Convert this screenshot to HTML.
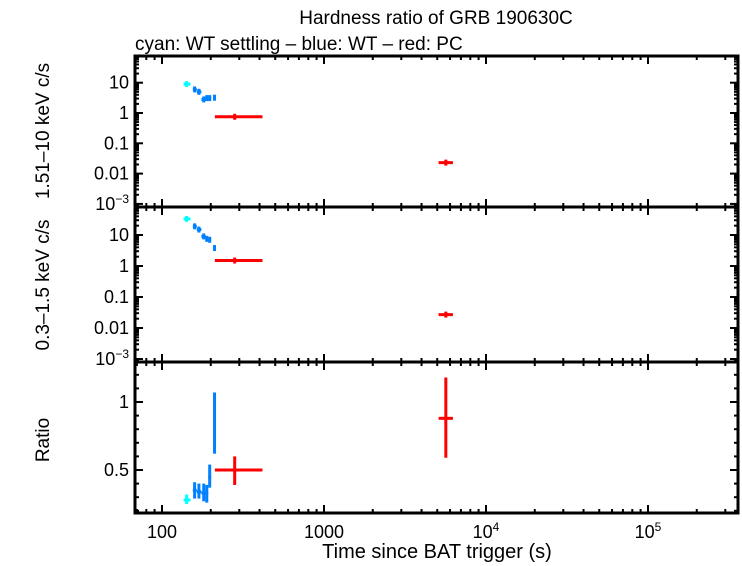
<!DOCTYPE html>
<html><head><meta charset="utf-8"><style>
html,body{margin:0;padding:0;background:#fff;}
svg{display:block;font-family:"Liberation Sans",sans-serif;}
</style></head><body>
<svg id="chart" width="742" height="566" xmlns="http://www.w3.org/2000/svg">
<text x="436" y="24" font-size="19" text-anchor="middle">Hardness ratio of GRB 190630C</text>
<text x="135" y="50" font-size="19">cyan: WT settling – blue: WT – red: PC</text>
<text x="437" y="558" font-size="20" text-anchor="middle">Time since BAT trigger (s)</text>
<text transform="translate(49,131) rotate(-90)" font-size="19" text-anchor="middle">1.51–10 keV c/s</text>
<text transform="translate(49,285) rotate(-90)" font-size="19" text-anchor="middle">0.3–1.5 keV c/s</text>
<text transform="translate(49,440) rotate(-90)" font-size="19" text-anchor="middle">Ratio</text>
<g id="g"></g>
</svg>
<script>
// time (s) with errors
const times   = [142, 159, 169, 181, 189, 197, 211, 281, 5650];
const tLo     = [136, 155, 164, 175, 185, 193, 208, 212, 5100];
const tHi     = [150, 164, 175, 186, 193, 201, 214, 417, 6250];
const series  = ['c','b','b','b','b','b','b','r','r'];
const hard    = [9, 6, 5, 2.8, 3.1, 3.1, 3.2, 0.75, 0.023];
const soft    = [33, 19, 15, 9, 7.5, 7, 3.8, 1.5, 0.027];
const ratio   = [0.28, 0.35, 0.34, 0.33, 0.33, 0.45, 0.85, 0.5, 0.88];
const ratioLo = [0.25, 0.29, 0.29, 0.27, 0.26, 0.37, 0.62, 0.39, 0.59];
const ratioHi = [0.32, 0.41, 0.40, 0.40, 0.39, 0.54, 1.07, 0.60, 1.18];
const logTicks = [-3,-2,-1,0,1];
const logTickLabels = [['10','−3'],['0.01',''],['0.1',''],['1',''],['10','']];
const ratioTicks = [0.5, 1];
const xTicks = [2,3,4,5];
const xTickLabels = [['100',''],['1000',''],['10','4'],['10','5']];

const L=135,R=738;
const X=t=>162+(Math.log10(t)-2)*162;
const panels=[
 {top:56,bot:207,y:v=>113-Math.log10(v)*30.3},
 {top:207,bot:362,y:v=>266-Math.log10(v)*31},
 {top:362,bot:513,y:v=>402+(1-v)*136}
];
const col={c:'#00ffff',b:'#0080ff',r:'#ff0000'};
const g=document.getElementById('g');
const NS='http://www.w3.org/2000/svg';
function mk(tag,a){const e=document.createElementNS(NS,tag);for(const k in a)e.setAttribute(k,a[k]);g.appendChild(e);return e;}
function ln(x1,y1,x2,y2,c,w){return mk('line',{x1,y1,x2,y2,stroke:c,'stroke-width':w});}
function tx(x,y,parts,anchor){
  const e=mk('text',{x,y,'font-size':18,'text-anchor':anchor});
  e.appendChild(document.createTextNode(parts[0]));
  if(parts[1]){const s=document.createElementNS(NS,'tspan');s.setAttribute('font-size','12');s.setAttribute('dy','-7');s.textContent=parts[1];e.appendChild(s);}
  return e;}

panels.forEach((p,pi)=>{
  const fr=mk('rect',{x:L,y:p.top,width:R-L,height:p.bot-p.top,fill:'none',stroke:'#000','stroke-width':3});
  
  
  for(let d=1;d<=5;d++)for(let m=1;m<10;m++){
    const t=m*Math.pow(10,d);const x=X(t);if(x<=L||x>=R)continue;
    const len=m===1?8:4;
    ln(x,p.bot,x,p.bot-len,'#000',2);ln(x,p.top,x,p.top+len,'#000',2);
  }
  if(pi<2){
    for(let d=-4;d<=2;d++)for(let m=1;m<10;m++){
      const y=p.y(m*Math.pow(10,d));if(y<=p.top||y>=p.bot)continue;
      const len=m===1?8:4;
      ln(L,y,L+len,y,'#000',2);ln(R,y,R-len,y,'#000',2);
    }
    logTicks.forEach((v,i)=>{const y=p.y(Math.pow(10,v));
      const e=tx(L-6,y+6,logTickLabels[i],'end');
      
      });
  } else {
    for(let v=0.2;v<1.3;v+=0.1){const y=p.y(v);if(y<=p.top||y>=p.bot)continue;
      const len=(Math.abs(v-0.5)<1e-6||Math.abs(v-1)<1e-6)?8:4;
      ln(L,y,L+len,y,'#000',2);ln(R,y,R-len,y,'#000',2);}
    ratioTicks.forEach(v=>{const e=tx(L-6,p.y(v)+6,[String(v),''],'end');
      
      });
  }
  times.forEach((t,i)=>{
    const c=col[series[i]];
    let v,lo,hi;
    if(pi===0){v=hard[i];lo=hi=null;}
    else if(pi===1){v=soft[i];lo=hi=null;}
    else {v=ratio[i];lo=ratioLo[i];hi=ratioHi[i];}
    const y=p.y(v);
    const h=ln(X(tLo[i]),y,X(tHi[i]),y,c,3);
    
    
    const y1=lo!==null?p.y(lo):y+3,y2=hi!==null?p.y(hi):y-3;
    const vv=ln(X(t),y1,X(t),y2,c,3);
    
    
  });
});
xTicks.forEach((d,i)=>{const e=tx(X(Math.pow(10,d)),538,xTickLabels[i],'middle');
  
  });
</script>
</body></html>
